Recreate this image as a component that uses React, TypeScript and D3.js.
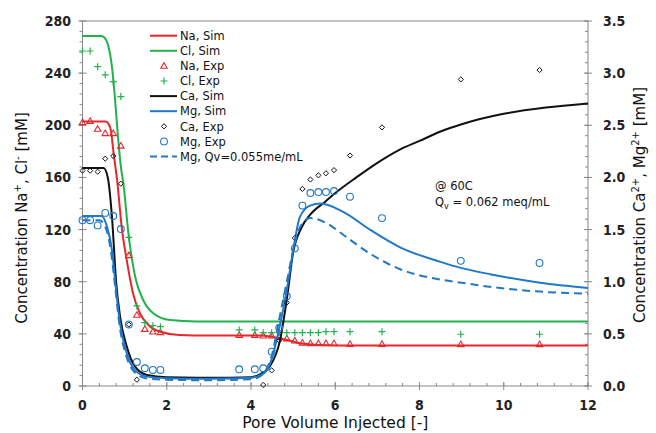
import React from 'react';
import * as d3 from 'd3';

const W = 656, H = 433;
const X0 = 82.5, X1 = 588, YB = 386, YT = 21;

// Experimental sampling (pore volumes)
const expX = [0, 0.18, 0.36, 0.54, 0.73, 0.91, 1.10, 1.29, 1.48, 1.67, 1.85, 3.72, 4.09, 4.29, 4.49, 4.67, 4.85, 5.04, 5.22, 5.41, 5.60, 5.78, 5.97, 6.35, 7.11, 8.98, 10.85];
const naExp = [202.3, 203.3, 197.2, 193.9, 193.9, 184.3, 100.3, 54.5, 43.7, 41.7, 41.2, 39.1, 39.1, 38.6, 38.7, 37.6, 36.4, 34.8, 33.2, 32.8, 32.8, 32.8, 32.8, 32.2, 32.2, 32.0, 32.0];
const clExp = [257, 257, 245, 238.7, 233.5, 222, 114, 61.4, 48.6, 46.3, 45.5, 43, 43, 40.9, 40.9, 40.9, 40.9, 40.9, 40.9, 40.9, 40.9, 41.7, 41.7, 41.7, 41.7, 39.7, 39.7];
const caExp: (number | null)[] = [2.065, 2.065, 2.055, 2.18, 2.205, 1.94, 0.59, 0.06, null, null, null, null, null, 0.01, 0.15, 0.435, 0.80, 1.42, 1.89, 1.98, 2.02, 2.04, 2.07, 2.21, 2.48, 2.94, 3.03];
const mgExp = [1.59, 1.59, 1.54, 1.66, 1.63, 1.505, 0.59, 0.23, 0.17, 0.154, 0.154, 0.16, 0.16, 0.17, 0.33, 0.56, 0.86, 1.32, 1.73, 1.85, 1.86, 1.86, 1.87, 1.815, 1.61, 1.20, 1.18];

// Simulations
const naSim: [number, number][] = [[0, 203], [0.55, 203], [0.62, 201], [0.68, 195], [0.73, 181], [0.83, 155.5], [0.93, 122], [1.05, 96.5], [1.2, 71], [1.36, 56], [1.56, 47], [1.83, 41.8], [2.3, 39.2], [3.0, 38.8], [4.2, 38.8], [4.5, 37.8], [4.85, 35.3], [5.16, 32.8], [5.65, 31.5], [6.6, 31], [8, 31], [12, 31]];
const clSim: [number, number][] = [[0, 268.5], [0.45, 268.5], [0.55, 266], [0.62, 260], [0.71, 242], [0.78, 217], [0.84, 192], [0.87, 181], [0.92, 166], [0.97, 155.5], [1.09, 117], [1.25, 83.8], [1.44, 66], [1.68, 55.8], [2.08, 50.6], [2.7, 49.5], [12, 49.5]];
const caSim: [number, number][] = [[0, 2.09], [0.5, 2.09], [0.6, 2.0], [0.70, 1.62], [0.80, 0.99], [0.89, 0.67], [1.05, 0.38], [1.24, 0.19], [1.53, 0.105], [2.0, 0.083], [3.0, 0.08], [4.0, 0.085], [4.2, 0.11], [4.45, 0.19], [4.69, 0.44], [4.85, 0.83], [5.0, 1.28], [5.2, 1.52], [5.4, 1.64], [5.77, 1.77], [6.0, 1.85], [6.5, 2.0], [7.0, 2.14], [7.5, 2.26], [8.0, 2.35], [8.5, 2.44], [9.0, 2.51], [10.0, 2.61], [11.0, 2.67], [12.0, 2.71]];
const mgSim: [number, number][] = [[0, 1.63], [0.45, 1.63], [0.58, 1.53], [0.70, 1.30], [0.78, 0.99], [0.89, 0.60], [1.05, 0.315], [1.24, 0.155], [1.53, 0.09], [2.0, 0.075], [3.0, 0.07], [4.0, 0.08], [4.2, 0.1], [4.36, 0.14], [4.5, 0.27], [4.68, 0.57], [4.85, 0.92], [5.0, 1.30], [5.16, 1.62], [5.4, 1.73], [5.65, 1.75], [6.19, 1.67], [6.82, 1.50], [7.54, 1.33], [8.5, 1.19], [9.0, 1.13], [9.7, 1.07], [10.86, 0.99], [12, 0.94]];
const mgSimQv: [number, number][] = [[0, 1.59], [0.4, 1.59], [0.55, 1.52], [0.68, 1.28], [0.77, 0.97], [0.88, 0.58], [1.03, 0.3], [1.22, 0.14], [1.5, 0.075], [2.0, 0.06], [3.0, 0.055], [4.0, 0.065], [4.2, 0.09], [4.35, 0.15], [4.5, 0.3], [4.65, 0.6], [4.85, 1.0], [5.0, 1.3], [5.16, 1.52], [5.4, 1.61], [5.8, 1.56], [6.19, 1.45], [6.82, 1.27], [7.54, 1.12], [8.5, 1.02], [9.0, 0.99], [9.7, 0.95], [10.86, 0.905], [12, 0.885]];

const xTicks = [0, 2, 4, 6, 8, 10, 12];
const yLTicks = [0, 40, 80, 120, 160, 200, 240, 280];
const yRTicks = [0, 0.5, 1.0, 1.5, 2.0, 2.5, 3.0, 3.5];

const RED = '#e8262b', GREEN = '#22b24c', BLUE = '#1f78c8', BLACK = '#111';
const TICKFONT = "'DejaVu Sans Condensed', 'DejaVu Sans', sans-serif";
const FONT = "'DejaVu Sans', sans-serif";
const AX = '#888';

const x = d3.scaleLinear().domain([0, 12]).range([X0, X1]);
const yL = d3.scaleLinear().domain([0, 280]).range([YB, YT]);
const yR = d3.scaleLinear().domain([0, 3.5]).range([YB, YT]);

const tri = d3.symbol(d3.symbolTriangle, 18);
const plus = (cx: number, cy: number, s = 3.5) => `M${cx - s},${cy}H${cx + s}M${cx},${cy - s}V${cy + s}`;
const diamond = (cx: number, cy: number, s = 2.6) => `M${cx},${cy - s}L${cx + s},${cy}L${cx},${cy + s}L${cx - s},${cy}Z`;

function Marker({ kind, cx, cy }: { kind: string; cx: number; cy: number }) {
  if (kind === 'tri') return <path d={tri() as string} transform={`translate(${cx},${cy + 0.5})`} fill="none" stroke={RED} strokeWidth={1.1} />;
  if (kind === 'plus') return <path d={plus(cx, cy)} stroke={GREEN} strokeWidth={1.2} />;
  if (kind === 'dia') return <path d={diamond(cx, cy)} fill="none" stroke={BLACK} strokeWidth={1} />;
  return <circle cx={cx} cy={cy} r={3.4} fill="none" stroke={BLUE} strokeWidth={1.1} />;
}

export default function App() {
  const lineL = d3.line<[number, number]>().x(d => x(d[0])).y(d => yL(d[1])).curve(d3.curveMonotoneX);
  const lineR = d3.line<[number, number]>().x(d => x(d[0])).y(d => yR(d[1])).curve(d3.curveMonotoneX);

  const xMinor = d3.range(0, 12.001, 0.4);
  const yLMinor = d3.range(0, 280.001, 8);
  const yRMinor = d3.range(0, 3.5001, 0.1);

  const legend = [
    { t: 'Na, Sim', line: RED },
    { t: 'Cl, Sim', line: GREEN },
    { t: 'Na, Exp', m: 'tri' },
    { t: 'Cl, Exp', m: 'plus' },
    { t: 'Ca, Sim', line: BLACK },
    { t: 'Mg, Sim', line: BLUE },
    { t: 'Ca, Exp', m: 'dia' },
    { t: 'Mg, Exp', m: 'circ' },
    { t: 'Mg, Qv=0.055me/mL', line: BLUE, dash: true },
  ];

  return (
    <svg width={W} height={H} style={{ position: 'absolute', left: 0, top: 0, background: '#fff' }} fontFamily={FONT}>
      <rect width={W} height={H} fill="#fff" />
      <line x1={X0} x2={X1} y1={YT} y2={YT} stroke={AX} strokeWidth={1} />
      <line x1={X0} x2={X0} y1={YT} y2={YB} stroke={AX} strokeWidth={1} />
      <line x1={X1} x2={X1} y1={YT} y2={YB} stroke={AX} strokeWidth={1} />
      <line x1={X0} x2={X1} y1={YB} y2={YB} stroke={AX} strokeWidth={1} />
      {xMinor.map((v, i) => <line key={'xm' + i} x1={x(v)} x2={x(v)} y1={YB - 3} y2={YB} stroke={AX} />)}
      {xTicks.map(v => <line key={'xM' + v} x1={x(v)} x2={x(v)} y1={YB - 4} y2={YB + 4} stroke={AX} />)}
      {yLMinor.map((v, i) => <line key={'lm' + i} x1={X0 - 3} x2={X0} y1={yL(v)} y2={yL(v)} stroke={AX} />)}
      {yLTicks.map(v => <line key={'lM' + v} x1={X0 - 4} x2={X0 + 4} y1={yL(v)} y2={yL(v)} stroke={AX} />)}
      {yRMinor.map((v, i) => <line key={'rm' + i} x1={X1 - 3} x2={X1} y1={yR(v)} y2={yR(v)} stroke={AX} />)}
      {yRTicks.map(v => <line key={'rM' + v} x1={X1 - 4} x2={X1 + 4} y1={yR(v)} y2={yR(v)} stroke={AX} />)}

      {xTicks.map(v => <text key={'xt' + v} x={x(v)} y={YB + 24} textAnchor="middle" fontFamily={TICKFONT} fontSize={14} fontWeight="bold" fill="#222">{v}</text>)}
      {yLTicks.map(v => <text key={'lt' + v} x={X0 - 11.5} y={yL(v) + 5} textAnchor="end" fontFamily={TICKFONT} fontSize={14} fontWeight="bold" fill="#222">{v}</text>)}
      {yRTicks.map(v => <text key={'rt' + v} x={X1 + 15} y={yR(v) + 5} textAnchor="start" fontFamily={TICKFONT} fontSize={14} fontWeight="bold" fill="#222">{v.toFixed(1)}</text>)}

      <text x={(X0 + X1) / 2} y={428} textAnchor="middle" fontSize={15.5} fill="#111">Pore Volume Injected [-]</text>
      <text transform={`translate(27,218) rotate(-90)`} textAnchor="middle" fontSize={15} fill="#111">
        Concentration  Na<tspan dy={-6} fontSize={10}>+</tspan><tspan dy={6}>, Cl</tspan><tspan dy={-6} fontSize={10}>-</tspan><tspan dy={6}> [mM]</tspan>
      </text>
      <text transform={`translate(645,205) rotate(-90)`} textAnchor="middle" fontSize={15} fill="#111">
        Concentration  Ca<tspan dy={-6} fontSize={10}>2+</tspan><tspan dy={6}>, Mg</tspan><tspan dy={-6} fontSize={10}>2+</tspan><tspan dy={6}> [mM]</tspan>
      </text>

      <path d={lineL(naSim) as string} fill="none" stroke={RED} strokeWidth={2} />
      <path d={lineL(clSim) as string} fill="none" stroke={GREEN} strokeWidth={2} />
      {expX.map((v, i) => <Marker key={'na' + i} kind="tri" cx={x(v)} cy={yL(naExp[i])} />)}
      {expX.map((v, i) => <Marker key={'cl' + i} kind="plus" cx={x(v)} cy={yL(clExp[i])} />)}
      <path d={lineR(caSim) as string} fill="none" stroke={BLACK} strokeWidth={2} />
      <path d={lineR(mgSim) as string} fill="none" stroke={BLUE} strokeWidth={2} />
      {expX.map((v, i) => caExp[i] == null ? null : <Marker key={'ca' + i} kind="dia" cx={x(v)} cy={yR(caExp[i] as number)} />)}
      {expX.map((v, i) => <Marker key={'mg' + i} kind="circ" cx={x(v)} cy={yR(mgExp[i])} />)}
      <path d={lineR(mgSimQv) as string} fill="none" stroke={BLUE} strokeWidth={2} strokeDasharray="8,5" />

      {legend.map((l, i) => {
        const cy = 35.7 + i * 15.1;
        return (
          <g key={'lg' + i}>
            {l.line ? <line x1={150} x2={177} y1={cy} y2={cy} stroke={l.line} strokeWidth={2} strokeDasharray={l.dash ? '7,4' : undefined} /> : <Marker kind={l.m as string} cx={164} cy={cy} />}
            <text x={180} y={cy + 4.2} fontSize={11.5} fill="#111">{l.t}</text>
          </g>
        );
      })}

      <text x={435} y={190} fontSize={11.5} fill="#111">@ 60C</text>
      <text x={435} y={206} fontSize={11.5} fill="#111">Q<tspan dy={3} fontSize={8}>v</tspan><tspan dy={-3}> = 0.062 meq/mL</tspan></text>
    </svg>
  );
}
